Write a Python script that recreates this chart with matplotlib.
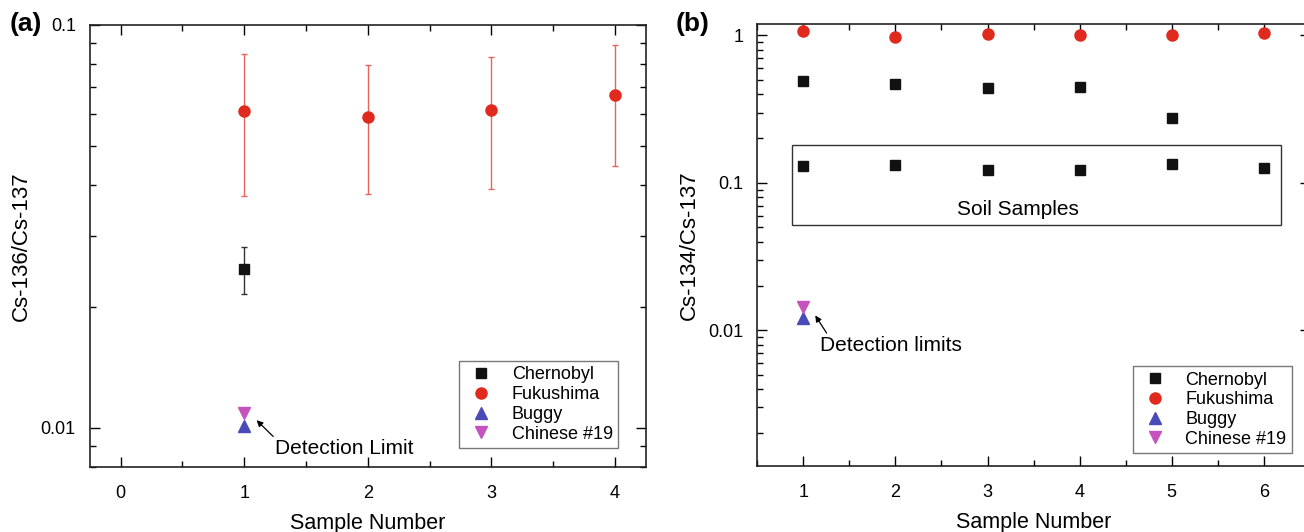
import numpy as np
import matplotlib
matplotlib.use("Agg")
import matplotlib.pyplot as plt
from matplotlib.ticker import LogLocator, NullFormatter, MultipleLocator, FixedLocator, FixedFormatter

plt.rcParams['font.family'] = ['Liberation Sans', 'DejaVu Sans']

# ---- panel (a): Cs-136/Cs-137 ----
a_fuku_x = [1, 2, 3, 4]
a_fuku_y = [0.0610, 0.0589, 0.0613, 0.0668]
a_fuku_hi = [0.0848, 0.0797, 0.0834, 0.0893]
a_fuku_lo = [0.0376, 0.0380, 0.0391, 0.0446]
a_cher_x = [1]
a_cher_y = [0.0248]
a_cher_hi = [0.0281]
a_cher_lo = [0.0215]
a_buggy = [0.0101]
a_chinese = [0.0109]

# ---- panel (b): Cs-134/Cs-137 ----
b_x = [1, 2, 3, 4, 5, 6]
b_fuku = [1.08, 0.975, 1.017, 1.011, 1.0, 1.033]
b_cher_x = [1, 2, 3, 4, 5]
b_cher = [0.489, 0.472, 0.441, 0.448, 0.275]
b_soil = [0.1295, 0.1316, 0.122, 0.123, 0.1337, 0.1267]
b_buggy = [0.0122]
b_chinese = [0.01445]

RED = '#e02a1e'
RED_ERR = '#e8645c'
BLACK = '#111111'
BLUE = '#4a4ab8'
MAG = '#c653bd'

fig = plt.figure(figsize=(13.04, 5.32), dpi=100)
ax1 = fig.add_axes([0.0688, 0.1222, 0.4266, 0.8312])
ax2 = fig.add_axes([0.5807, 0.1241, 0.4239, 0.8312])


def style(ax):
    ax.set_yscale('log')
    ax.tick_params(which='both', direction='in', top=True, right=True, labelsize=13)
    ax.tick_params(axis='x', which='major', pad=13)
    ax.tick_params(axis='y', which='major', pad=10)
    ax.tick_params(which='major', length=7, width=1)
    ax.tick_params(which='minor', length=4, width=1)
    for s in ax.spines.values():
        s.set_linewidth(1.2)
        s.set_color('#222222')
    ax.yaxis.set_minor_locator(LogLocator(base=10, subs=np.arange(2, 10)))
    ax.yaxis.set_minor_formatter(NullFormatter())
    ax.xaxis.set_minor_locator(MultipleLocator(0.5))
    ax.set_xlabel('Sample Number', fontsize=15.5, labelpad=8)


# panel (a)
ax1.errorbar(a_fuku_x, a_fuku_y,
             yerr=[np.array(a_fuku_y) - np.array(a_fuku_lo), np.array(a_fuku_hi) - np.array(a_fuku_y)],
             fmt='none', ecolor=RED_ERR, elinewidth=1, capsize=2.2, capthick=1)
ax1.errorbar(a_cher_x, a_cher_y,
             yerr=[np.array(a_cher_y) - np.array(a_cher_lo), np.array(a_cher_hi) - np.array(a_cher_y)],
             fmt='none', ecolor='#333333', elinewidth=1, capsize=2.2, capthick=1)
ax1.plot(a_cher_x, a_cher_y, 's', color=BLACK, ms=7, label='Chernobyl')
ax1.plot(a_fuku_x, a_fuku_y, 'o', color=RED, ms=8, label='Fukushima')
ax1.plot([1], a_buggy, '^', color=BLUE, ms=8, label='Buggy')
ax1.plot([1], a_chinese, 'v', color=MAG, ms=8, label='Chinese #19')
style(ax1)
ax1.set_xlim(-0.25, 4.25)
ax1.set_ylim(0.008, 0.1)
ax1.set_xticks([0, 1, 2, 3, 4])
ax1.yaxis.set_major_locator(FixedLocator([0.01, 0.1]))
ax1.yaxis.set_major_formatter(FixedFormatter(['0.01', '0.1']))
ax1.set_ylabel('Cs-136/Cs-137', fontsize=16, labelpad=6)
ax1.annotate('Detection Limit', xy=(1.1, 0.01045), xytext=(1.25, 0.00888),
             fontsize=15, va='center', ha='left',
             arrowprops=dict(arrowstyle='-|>', color='black', lw=0.9, mutation_scale=9,
                             shrinkA=0, shrinkB=0, relpos=(0.02, 0.9)))
leg1 = ax1.legend(loc='lower right', bbox_to_anchor=(0.950, 0.043), fontsize=13, frameon=True,
                  fancybox=False, edgecolor='#555555', handletextpad=0.8, borderpad=0.3,
                  labelspacing=0.15, handlelength=1.8, borderaxespad=0)
leg1.get_frame().set_linewidth(1)
fig.text(0.007, 0.955, '(a)', fontsize=19, fontweight='bold', va='center')

# panel (b)
ax2.plot(b_cher_x, b_cher, 's', color=BLACK, ms=7, label='Chernobyl')
ax2.plot(b_x, b_soil, 's', color=BLACK, ms=7)
ax2.plot(b_x, b_fuku, 'o', color=RED, ms=8, label='Fukushima')
ax2.plot([1], b_buggy, '^', color=BLUE, ms=8, label='Buggy')
ax2.plot([1], b_chinese, 'v', color=MAG, ms=8, label='Chinese #19')
style(ax2)
ax2.set_xlim(0.5, 6.5)
ax2.set_ylim(0.0012, 1.2)
ax2.set_xticks([1, 2, 3, 4, 5, 6])
ax2.yaxis.set_major_locator(FixedLocator([0.01, 0.1, 1]))
ax2.yaxis.set_major_formatter(FixedFormatter(['0.01', '0.1', '1']))
ax2.set_ylabel('Cs-134/Cs-137', fontsize=16, labelpad=6)
ax2.add_patch(plt.Rectangle((0.877, 0.0518), 6.18 - 0.877, 0.1795 - 0.0518,
                            fill=False, edgecolor='#333333', lw=1))
ax2.text(3.33, 0.0664, 'Soil Samples', fontsize=15, ha='center', va='center')
ax2.annotate('Detection limits', xy=(1.13, 0.0126), xytext=(1.18, 0.0079),
             fontsize=15, va='center', ha='left',
             arrowprops=dict(arrowstyle='-|>', color='black', lw=0.9, mutation_scale=9,
                             shrinkA=0, shrinkB=0, relpos=(0.06, 1.0)))
leg2 = ax2.legend(loc='lower right', bbox_to_anchor=(0.967, 0.029), fontsize=13, frameon=True,
                  fancybox=False, edgecolor='#555555', handletextpad=0.8, borderpad=0.3,
                  labelspacing=0.15, handlelength=1.8, borderaxespad=0)
leg2.get_frame().set_linewidth(1)
fig.text(0.518, 0.955, '(b)', fontsize=19, fontweight='bold', va='center')

fig.savefig('out.png', dpi=100)
